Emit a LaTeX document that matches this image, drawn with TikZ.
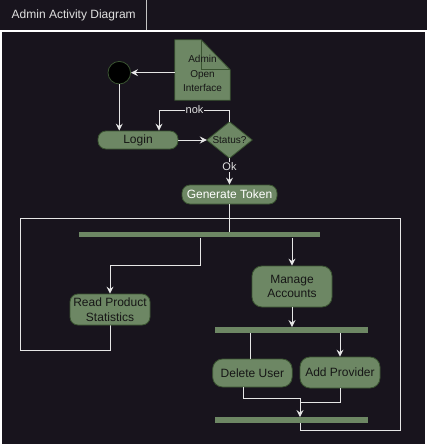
\documentclass[tikz,border=0pt]{standalone}
\usepackage{fontspec}
\setmainfont{Liberation Sans}
\usetikzlibrary{arrows.meta,calc,backgrounds}
\definecolor{bgdark}{HTML}{18141D}
\definecolor{gfill}{HTML}{6D8764}
\definecolor{gstroke}{HTML}{3A5431}
\definecolor{lnc}{HTML}{E6E6E6}
\definecolor{txtd}{HTML}{161616}
\definecolor{ttl}{HTML}{E0E0E0}
\begin{document}
\begin{tikzpicture}[x=1pt,y=-1pt,
  act/.style={draw=gstroke, fill=gfill, rounded corners=8pt, text=txtd,
    font=\fontsize{12}{14.6}\selectfont, inner sep=0pt, align=center, line width=0.8pt},
  barnode/.style={fill=gfill, draw=none, inner sep=0pt},
  conn/.style={draw=lnc, line width=1pt},
  arr/.style={conn, -{Stealth[length=7pt,width=7pt,inset=2.5pt]}},
  lbl/.style={fill=bgdark, text=ttl, inner sep=1pt, font=\fontsize{11}{13}\selectfont}
]
\useasboundingbox (0,0) rectangle (427,447);

% initial node
\node[circle, fill=black, draw=gstroke, line width=0.8pt, minimum size=22.6pt, inner sep=0pt] (init) at (119.3,72.7) {};

% note outline node (shape drawn on background layer) and its text
\node[inner sep=0pt, minimum width=55pt, minimum height=60pt] (note) at (202.5,70) {};
\node[text=txtd, font=\fontsize{10}{14.5}\selectfont, align=center, inner sep=0pt] (notetext) at (202.5,73.5) {Admin\\Open\\Interface};

% activities
\node[act, minimum width=80pt, minimum height=18pt] (login) at (138,140) {Login};
\node[inner sep=0pt, minimum width=45pt, minimum height=36pt, text=txtd, font=\fontsize{10}{12}\selectfont] (status) at (229.5,140) {Status?};
\node[act, text=white, minimum width=95pt, minimum height=19pt] (gentoken) at (229.5,194.5) {Generate Token};
\node[barnode, minimum width=241pt, minimum height=5.5pt] (fork1) at (199.5,234.7) {};
\node[act, minimum width=80pt, minimum height=31pt] (readstats) at (110,309.5) {Read Product\\Statistics};
\node[act, rounded corners=10pt, minimum width=80pt, minimum height=41pt] (manage) at (292,286.5) {Manage\\Accounts};
\node[barnode, minimum width=153pt, minimum height=5.5pt] (fork2) at (291.5,330) {};
\node[act, rounded corners=10pt, minimum width=79.5pt, minimum height=28pt] (deluser) at (252.4,373) {Delete User};
\node[act, rounded corners=10pt, minimum width=80pt, minimum height=31pt] (addprov) at (340,372.5) {Add Provider};
\node[barnode, minimum width=153pt, minimum height=5.5pt] (join) at (291.5,420) {};

% coordinates for bends
\coordinate (nokc) at (159,110);
\coordinate (f1a) at (200,265.5);
\coordinate (dl) at (243,398);
\coordinate (jm) at (300,398);
\coordinate (am) at (300,402);
\coordinate (c0) at (300,430);
\coordinate (c1) at (400,430);
\coordinate (c2) at (400,218);
\coordinate (c3) at (20,218);
\coordinate (c4) at (20,350);
\coordinate (c5) at (110,350);

\begin{pgfonlayer}{background}
  \fill[white] (0,0) rectangle (427,447);
  \fill[bgdark] (0,0) rectangle (427,29.5);
  \fill[bgdark] (2,32) rectangle (425,444);
  \draw[lnc!85!black, line width=1pt] (146.5,0) -- (146.5,29.5);
  % note shape
  \fill[gfill, draw=gstroke, line width=0.8pt] (note.north west) -- ($(note.north east)+(-29,0)$) -- ($(note.north east)+(0,30)$) -- (note.south east) -- (note.south west) -- cycle;
  \draw[gstroke, line width=0.8pt] ($(note.north east)+(-29,0)$) -- ($(note.north east)+(-29,30)$) -- ($(note.north east)+(0,30)$);
  % diamond
  \draw[fill=gfill, draw=gstroke, line width=0.8pt] (status.north) -- (status.east) -- (status.south) -- (status.west) -- cycle;
  % loop line
  \draw[conn] (jm |- join.south) -- (c0) -- (c1) -- (c2) -- (c3) -- (c4) -- (c5) -- (readstats.south);
\end{pgfonlayer}

\node[text=ttl, font=\fontsize{12}{14}\selectfont] (title) at (73.7,15) {Admin Activity Diagram};

% connectors
\draw[arr] (init -| note.west) -- (init.east);
\draw[arr] (init.south) -- (init |- login.north);
\draw[arr] (login.east) -- (status.west);
\draw[arr] (status.north) |- (nokc) -- (nokc |- login.north);
\node[lbl] (nok) at (194.5,110) {nok};
\draw[arr] (status.south) -- (gentoken.north);
\node[lbl] (ok) at (229.5,167) {Ok};
\draw[conn] (gentoken.south) -- (gentoken.south |- fork1.north);
\draw[arr] (f1a |- fork1.south) -- (f1a) -| (readstats.north);
\draw[arr] (manage.north |- fork1.south) -- (manage.north);
\draw[arr] (manage.south) -- (manage.south |- fork2.north);
\draw[conn] ($(deluser.north |- fork2.south)+(-2,0)$) -- ($(deluser.north)+(-2,0)$);
\draw[arr] (addprov.north |- fork2.south) -- (addprov.north);
\draw[arr] (dl |- deluser.south) -- (dl) -- (jm) -- (jm |- join.north);
\draw[conn] (addprov.south) |- (am);
\end{tikzpicture}
\end{document}
